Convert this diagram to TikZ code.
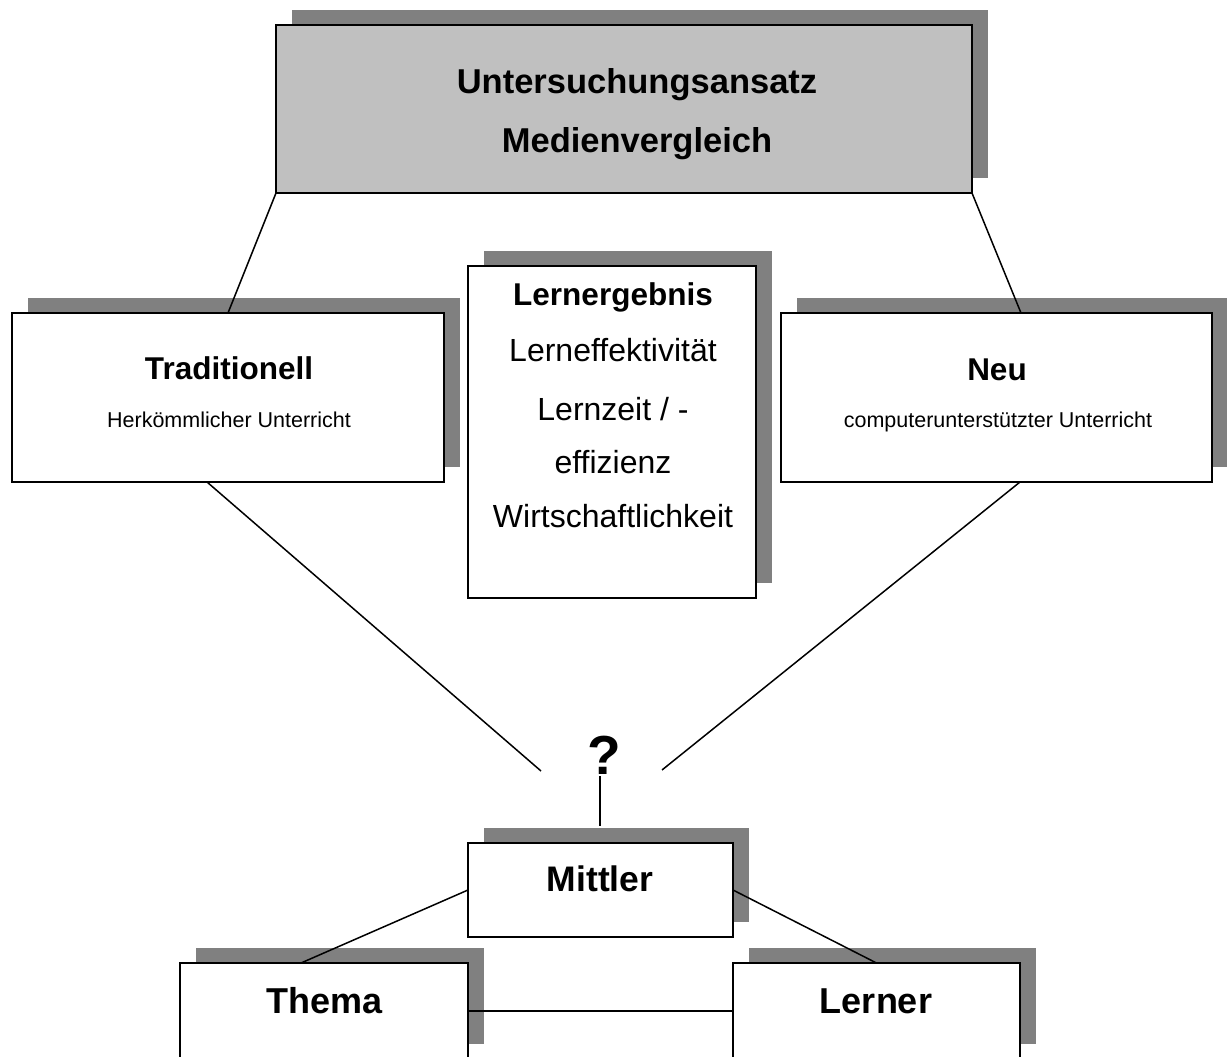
\documentclass[tikz,border=0pt]{standalone}
\usepackage{fontspec}
\setmainfont{Liberation Sans}
\usetikzlibrary{shadows}
\definecolor{shgray}{HTML}{808080}
\definecolor{topgray}{HTML}{C0C0C0}
\newcommand{\fsz}[1]{\fontsize{#1}{#1}\selectfont}
\tikzset{
  card/.style={draw=black, line width=2pt, fill=white, rectangle, inner sep=0pt, outer sep=0pt,
    drop shadow={shadow xshift=16pt, shadow yshift=15pt, fill=shgray, opacity=1}},
  link/.style={draw=black, line width=1.5pt},
  lbl/.style={inner sep=0pt, anchor=base},
  boldbig/.style={font=\bfseries\fsz{#1}},
  plain/.style={font=\fsz{#1}},
}
\begin{document}
\begin{tikzpicture}[x=1pt,y=-1pt]
\useasboundingbox (0,0) rectangle (1227,1057);
% boxes
\node[card, fill=topgray, minimum width=696pt, minimum height=168pt] (top) at (624,109) {};
\node[card, minimum width=432pt, minimum height=169pt] (trad) at (228,397.5) {};
\node[card, minimum width=431pt, minimum height=169pt] (neu) at (996.5,397.5) {};
\node[card, minimum width=288pt, minimum height=332pt] (mid) at (612,432) {};
\node[card, minimum width=265pt, minimum height=94pt] (mittler) at (600.5,890) {};
\node[card, minimum width=288pt, minimum height=96pt] (thema) at (324,1011) {};
\node[card, minimum width=287pt, minimum height=96pt] (lerner) at (876.5,1011) {};
% texts
\node[lbl, boldbig=34.5] (t1) at (637,94) {Untersuchungsansatz};
\node[lbl, boldbig=34.5] (t2) at (637,152) {Medienvergleich};
\node[lbl, boldbig=31.5] (tr1) at (229,379.5) {Traditionell};
\node[lbl, plain=21.5] (tr2) at (229,427.5) {Herkömmlicher Unterricht};
\node[lbl, boldbig=31.5] (n1) at (997,380) {Neu};
\node[lbl, plain=21.5] (n2) at (998,427) {computerunterstützter Unterricht};
\node[lbl, boldbig=31.5] (m1) at (613,305.7) {Lernergebnis};
\node[lbl, plain=32] (m2) at (613,361.7) {Lerneffektivität};
\node[lbl, plain=32] (m3) at (613,420) {Lernzeit / -};
\node[lbl, plain=32] (m4) at (613,473) {effizienz};
\node[lbl, plain=32] (m5) at (613,527) {Wirtschaftlichkeit};
\node[lbl, boldbig=35.5] (mi) at (600,891.7) {Mittler};
\node[lbl, boldbig=36] (th) at (325,1013) {Thema};
\node[lbl, boldbig=36] (le) at (876,1013) {Lerner};
\node[lbl, boldbig=55] (q) at (604,774) {?};
% connectors
\coordinate (qL) at (541,771);
\coordinate (qR) at (662,770);
\coordinate (qtop) at (600,776);
\coordinate (qbot) at (600,826);
\draw[link] (top.south west) -- (trad.north);
\draw[link] (top.south east) -- ([xshift=24.5pt]neu.north);
\draw[link] ([xshift=-21pt]trad.south) -- (qL);
\draw[link] ([xshift=23.5pt]neu.south) -- (qR);
\draw[link] (qtop) -- (qbot);
\draw[link] (mittler.west) -- ([xshift=-23pt]thema.north);
\draw[link] (mittler.east) -- (lerner.north);
\draw[link] (thema.east) -- (lerner.west);
\end{tikzpicture}
\end{document}
